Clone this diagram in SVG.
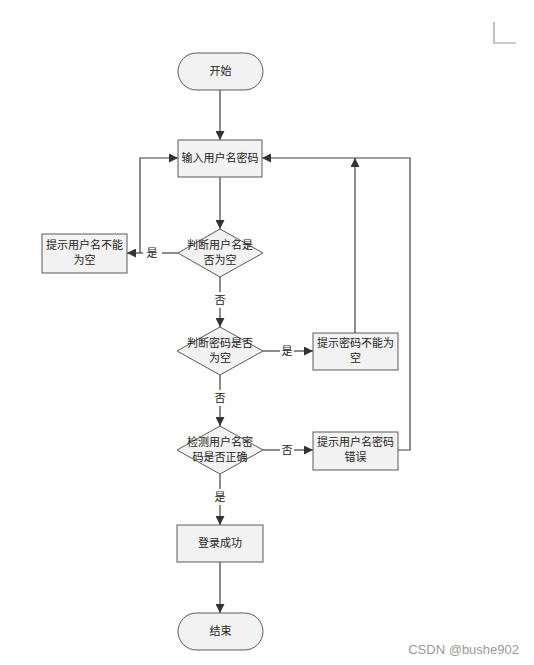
<svg xmlns="http://www.w3.org/2000/svg" width="534" height="665" viewBox="0 0 534 665">
<style>
.shape{fill:#f2f2f2;stroke:#5a5a5a;stroke-width:1}
.t{font-family:"Noto Sans CJK SC","Noto Sans",sans-serif;font-size:11px;fill:#222;text-anchor:middle}
.ln{fill:none;stroke:#404040;stroke-width:1.2}
.lbl{font-family:"Noto Sans CJK SC","Noto Sans",sans-serif;font-size:11px;fill:#222;text-anchor:middle}
</style>
<defs>
<marker id="ah" viewBox="0 0 10 10" refX="10" refY="5" markerWidth="9" markerHeight="9" markerUnits="userSpaceOnUse" orient="auto">
<path d="M0,0 L10,5 L0,10 z" fill="#333"/>
</marker>
</defs>
<rect width="534" height="665" fill="#fff"/>
<path d="M494,22 V43 H516" fill="none" stroke="#999" stroke-width="1.2"/>
<g id="connectors">
<path class="ln" d="M220,90 V140" marker-end="url(#ah)"/>
<path class="ln" d="M220,177 V229" marker-end="url(#ah)"/>
<path class="ln" d="M178,253 H162"/>
<path class="ln" d="M143,253 H127" marker-end="url(#ah)"/>
<path class="ln" d="M140,253 V158 H178" marker-end="url(#ah)"/>
<path class="ln" d="M220,277 V292"/>
<path class="ln" d="M220,308 V327" marker-end="url(#ah)"/>
<path class="ln" d="M263,351 H280"/>
<path class="ln" d="M294,351 H313" marker-end="url(#ah)"/>
<path class="ln" d="M355,333 V158" marker-end="url(#ah)"/>
<path class="ln" d="M398,450 H410 V158 H262" marker-end="url(#ah)"/>
<path class="ln" d="M220,375 V390"/>
<path class="ln" d="M220,406 V426" marker-end="url(#ah)"/>
<path class="ln" d="M263,450 H280"/>
<path class="ln" d="M294,450 H313" marker-end="url(#ah)"/>
<path class="ln" d="M220,474 V489"/>
<path class="ln" d="M220,505 V525" marker-end="url(#ah)"/>
<path class="ln" d="M220,562 V613" marker-end="url(#ah)"/>
<text class="lbl" x="152" y="257">是</text>
<text class="lbl" x="220" y="304">否</text>
<text class="lbl" x="287" y="355">是</text>
<text class="lbl" x="220" y="402">否</text>
<text class="lbl" x="287" y="454">否</text>
<text class="lbl" x="220" y="501">是</text>
</g>
<g id="start">
<rect class="shape" x="178" y="53" width="85" height="37" rx="18.5"/>
<text class="t" x="220.5" y="75">开始</text>
</g>
<g id="input">
<rect class="shape" x="178" y="140" width="84" height="37"/>
<text class="t" x="220" y="162">输入用户名密码</text>
</g>
<g id="check-user">
<polygon class="shape" points="220,229 263,253 220,277 178,253"/>
<text class="t" x="220" y="249">判断用户名是</text>
<text class="t" x="220" y="264">否为空</text>
</g>
<g id="hint-user">
<rect class="shape" x="42" y="234" width="85" height="39"/>
<text class="t" x="84.5" y="249">提示用户名不能</text>
<text class="t" x="84.5" y="264">为空</text>
</g>
<g id="check-pwd">
<polygon class="shape" points="220,327 263,351 220,375 177,351"/>
<text class="t" x="220" y="347">判断密码是否</text>
<text class="t" x="220" y="362">为空</text>
</g>
<g id="hint-pwd">
<rect class="shape" x="313" y="333" width="85" height="37"/>
<text class="t" x="355.5" y="347">提示密码不能为</text>
<text class="t" x="355.5" y="362">空</text>
</g>
<g id="check-both">
<polygon class="shape" points="220,426 263,450 220,474 177,450"/>
<text class="t" x="220" y="446">检测用户名密</text>
<text class="t" x="220" y="461">码是否正确</text>
</g>
<g id="hint-wrong">
<rect class="shape" x="313" y="432" width="85" height="38"/>
<text class="t" x="355.5" y="446">提示用户名密码</text>
<text class="t" x="355.5" y="461">错误</text>
</g>
<g id="success">
<rect class="shape" x="177" y="525" width="86" height="37"/>
<text class="t" x="220" y="547">登录成功</text>
</g>
<g id="end">
<rect class="shape" x="178" y="613" width="85" height="37" rx="18.5"/>
<text class="t" x="220.5" y="635">结束</text>
</g>
<text x="519" y="654" font-family="Liberation Sans, Arial, sans-serif" font-size="13" fill="#999" text-anchor="end">CSDN @bushe902</text>
</svg>
